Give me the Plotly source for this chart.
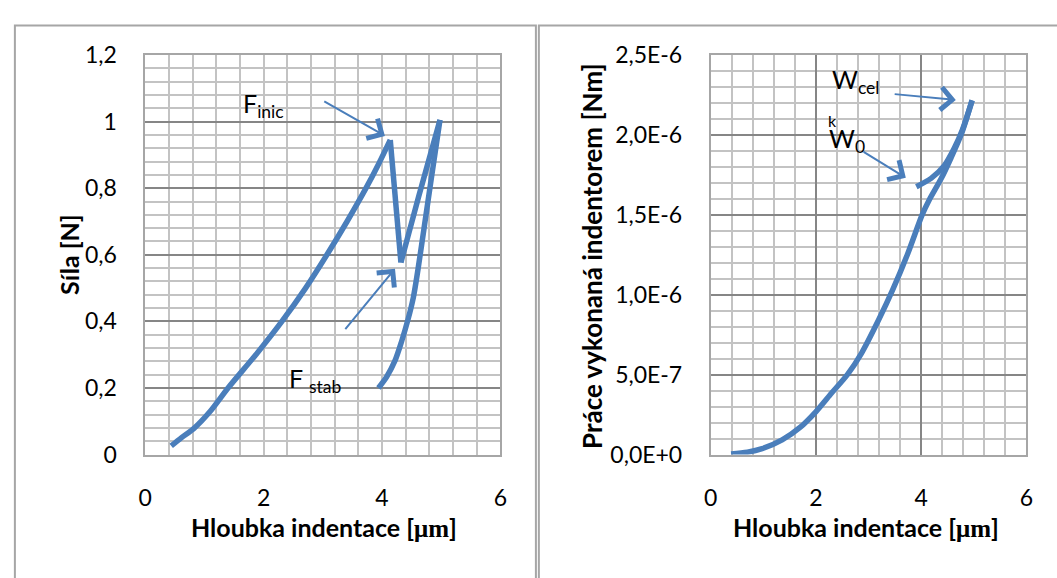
import plotly.graph_objects as go

# ---------------- data ----------------
# left chart: force [N] vs indentation depth [um], split into its four phases
load_depth = [0.44, 0.62, 0.82, 1.10, 1.40, 1.87, 2.31, 2.71, 3.07, 3.41, 3.73, 3.95, 4.14]
load_force = [0.026, 0.052, 0.078, 0.130, 0.200, 0.300, 0.400, 0.500, 0.600, 0.700, 0.800, 0.875, 0.945]
drop_depth = [4.14, 4.32]
drop_force = [0.945, 0.577]
reload_depth = [4.32, 4.62, 4.98]
reload_force = [0.577, 0.775, 1.005]
unload_depth = [4.98, 4.83, 4.72, 4.61, 4.53, 4.44, 4.33, 4.22, 4.08, 3.94]
unload_force = [1.005, 0.825, 0.691, 0.558, 0.472, 0.406, 0.339, 0.282, 0.234, 0.200]

# right chart: work [Nm] vs indentation depth [um]
work_depth_a = [0.39, 0.70, 0.98, 1.36, 1.70, 2.00, 2.30, 2.60, 2.87, 3.19, 3.46, 3.75, 4.02, 4.15,
                4.38, 4.57, 4.76, 4.97]
work_a_e6 = [0.004, 0.015, 0.037, 0.092, 0.170, 0.268, 0.385, 0.500, 0.635, 0.840, 1.030, 1.260, 1.500, 1.590,
             1.725, 1.857, 2.000, 2.216]
work_depth_b = [4.97, 4.79, 4.63, 4.44, 4.19, 3.91]
work_b_e6 = [2.216, 2.036, 1.917, 1.808, 1.728, 1.676]

left_x_ticks = [0, 2, 4, 6]
left_y_ticks = [0, 0.2, 0.4, 0.6, 0.8, 1.0, 1.2]
left_y_labels = ["0", "0,2", "0,4", "0,6", "0,8", "1", "1,2"]
right_y_ticks = [0, 0.5e-6, 1.0e-6, 1.5e-6, 2.0e-6, 2.5e-6]
right_y_labels = ["0,0E+0", "5,0E-7", "1,0E-6", "1,5E-6", "2,0E-6", "2,5E-6"]

# ---------------- style ----------------
W, H = 1057, 578
BLUE = "#4A7EBB"
MINOR = "#C3C3C3"
MAJOR = "#868686"
FONT = "Lato"


def px(x):
    return x / W


def py(y):
    return 1 - y / H


fig = go.Figure()
line = dict(color=BLUE, width=5.5)
for xs, ys, shape in [(load_depth, load_force, "spline"), (drop_depth, drop_force, "linear"),
                      (reload_depth, reload_force, "spline"), (unload_depth, unload_force, "spline")]:
    fig.add_trace(go.Scatter(x=xs, y=ys, mode="lines", line=dict(line, shape=shape, smoothing=0.8),
                             xaxis="x", yaxis="y", showlegend=False, hoverinfo="skip"))
for xs, ys in [(work_depth_a, work_a_e6), (work_depth_b, work_b_e6)]:
    fig.add_trace(go.Scatter(x=xs, y=[v * 1e-6 for v in ys], mode="lines",
                             line=dict(line, shape="spline", smoothing=0.8),
                             xaxis="x2", yaxis="y2", showlegend=False, hoverinfo="skip"))

tickfont = dict(family=FONT, size=23, color="#000000")
common = dict(showline=True, mirror=True, linecolor="#A6A6A6", linewidth=1.5,
              zeroline=False, ticks="", tickfont=tickfont)

fig.update_layout(
    width=W, height=H,
    margin=dict(l=0, r=0, t=0, b=0),
    paper_bgcolor="white", plot_bgcolor="white",
    separators=", ",
    xaxis=dict(domain=[px(140), px(500)], range=[0, 6], tickvals=left_x_ticks,
               showgrid=True, gridcolor=MINOR, gridwidth=1.5,
               minor=dict(dtick=0.4, showgrid=True, gridcolor=MINOR, gridwidth=1.5),
               ticklabelstandoff=22, anchor="y", **common),
    yaxis=dict(domain=[py(462), py(42)], range=[0, 1.2], tickvals=left_y_ticks,
               ticktext=left_y_labels,
               showgrid=True, gridcolor=MAJOR, gridwidth=1.5,
               minor=dict(dtick=0.04, showgrid=True, gridcolor=MINOR, gridwidth=1.5),
               ticklabelstandoff=22, anchor="x", **common),
    xaxis2=dict(domain=[px(713), px(1033)], range=[0, 6], tickvals=left_x_ticks,
                showgrid=True, gridcolor=MAJOR, gridwidth=1.5,
                minor=dict(dtick=0.4, showgrid=True, gridcolor=MINOR, gridwidth=1.5),
                ticklabelstandoff=22, anchor="y2", **common),
    yaxis2=dict(domain=[py(462), py(42)], range=[0, 2.5e-6], tickvals=right_y_ticks,
                ticktext=right_y_labels,
                showgrid=True, gridcolor=MAJOR, gridwidth=1.5,
                minor=dict(dtick=1e-7, showgrid=True, gridcolor=MINOR, gridwidth=1.5),
                ticklabelstandoff=22, anchor="x2", **common),
)

# frames around the two charts
frame = dict(color="#A6A6A6", width=2)
fig.add_shape(type="rect", xref="paper", yref="paper", x0=px(8), x1=px(536), y0=py(600), y1=py(11),
              line=frame, fillcolor="rgba(0,0,0,0)", layer="below")
fig.add_shape(type="rect", xref="paper", yref="paper", x0=px(539), x1=px(1080), y0=py(600), y1=py(11),
              line=frame, fillcolor="rgba(0,0,0,0)", layer="below")

titlefont = dict(family=FONT, size=25, color="#000000")
mu = "<span style=\"font-family:'Liberation Serif'\">μm</span>"
xtitle = "<b>Hloubka indentace [" + mu + "]</b>"
fig.add_annotation(xref="paper", yref="paper", x=px(321), y=py(538), text=xtitle,
                   showarrow=False, font=titlefont, xanchor="center", yanchor="middle")
fig.add_annotation(xref="paper", yref="paper", x=px(871), y=py(538), text=xtitle,
                   showarrow=False, font=titlefont, xanchor="center", yanchor="middle")
fig.add_annotation(xref="paper", yref="paper", x=px(63), y=py(252), text="<b>Síla [N]</b>",
                   showarrow=False, font=titlefont, textangle=-90, xanchor="center", yanchor="middle")
fig.add_annotation(xref="paper", yref="paper", x=px(593), y=py(253),
                   text="<b>Práce vykonaná indentorem [Nm]</b>",
                   showarrow=False, font=dict(titlefont, size=26), textangle=-90,
                   xanchor="center", yanchor="middle")

# labels
lab = dict(family=FONT, size=25, color="#000000")
fig.add_annotation(xref="x", yref="y", x=2.0, y=1.05, text="F<sub>inic</sub>", showarrow=False, font=lab)
fig.add_annotation(xref="x", yref="y", x=2.88, y=0.225, text="F <sub>stab</sub>", showarrow=False, font=lab)
fig.add_annotation(xref="x2", yref="y2", x=2.76, y=2.34e-6, text="W<sub>cel</sub>", showarrow=False, font=lab)
fig.add_annotation(xref="x2", yref="y2", x=2.59, y=1.97e-6, text="W<sub>0</sub>", showarrow=False, font=lab)
fig.add_annotation(xref="x2", yref="y2", x=2.31, y=2.09e-6, text="k", showarrow=False,
                   font=dict(family=FONT, size=16, color="#000000"))

# arrows
arrow = dict(showarrow=True, arrowhead=4, arrowsize=2.2, arrowwidth=2, arrowcolor=BLUE, text="",
             standoff=0)
fig.add_annotation(xref="x", yref="y", axref="x", ayref="y", x=4.05, y=0.957, ax=3.0, ay=1.063, **arrow)
fig.add_annotation(xref="x", yref="y", axref="x", ayref="y", x=4.22, y=0.558, ax=3.36, ay=0.372, **arrow)
fig.add_annotation(xref="x2", yref="y2", axref="x2", ayref="y2", x=4.66, y=2.218e-6, ax=3.47, ay=2.256e-6, **arrow)
fig.add_annotation(xref="x2", yref="y2", axref="x2", ayref="y2", x=3.71, y=1.732e-6, ax=2.88, ay=1.90e-6, **arrow)

fig.write_html("out.html")
